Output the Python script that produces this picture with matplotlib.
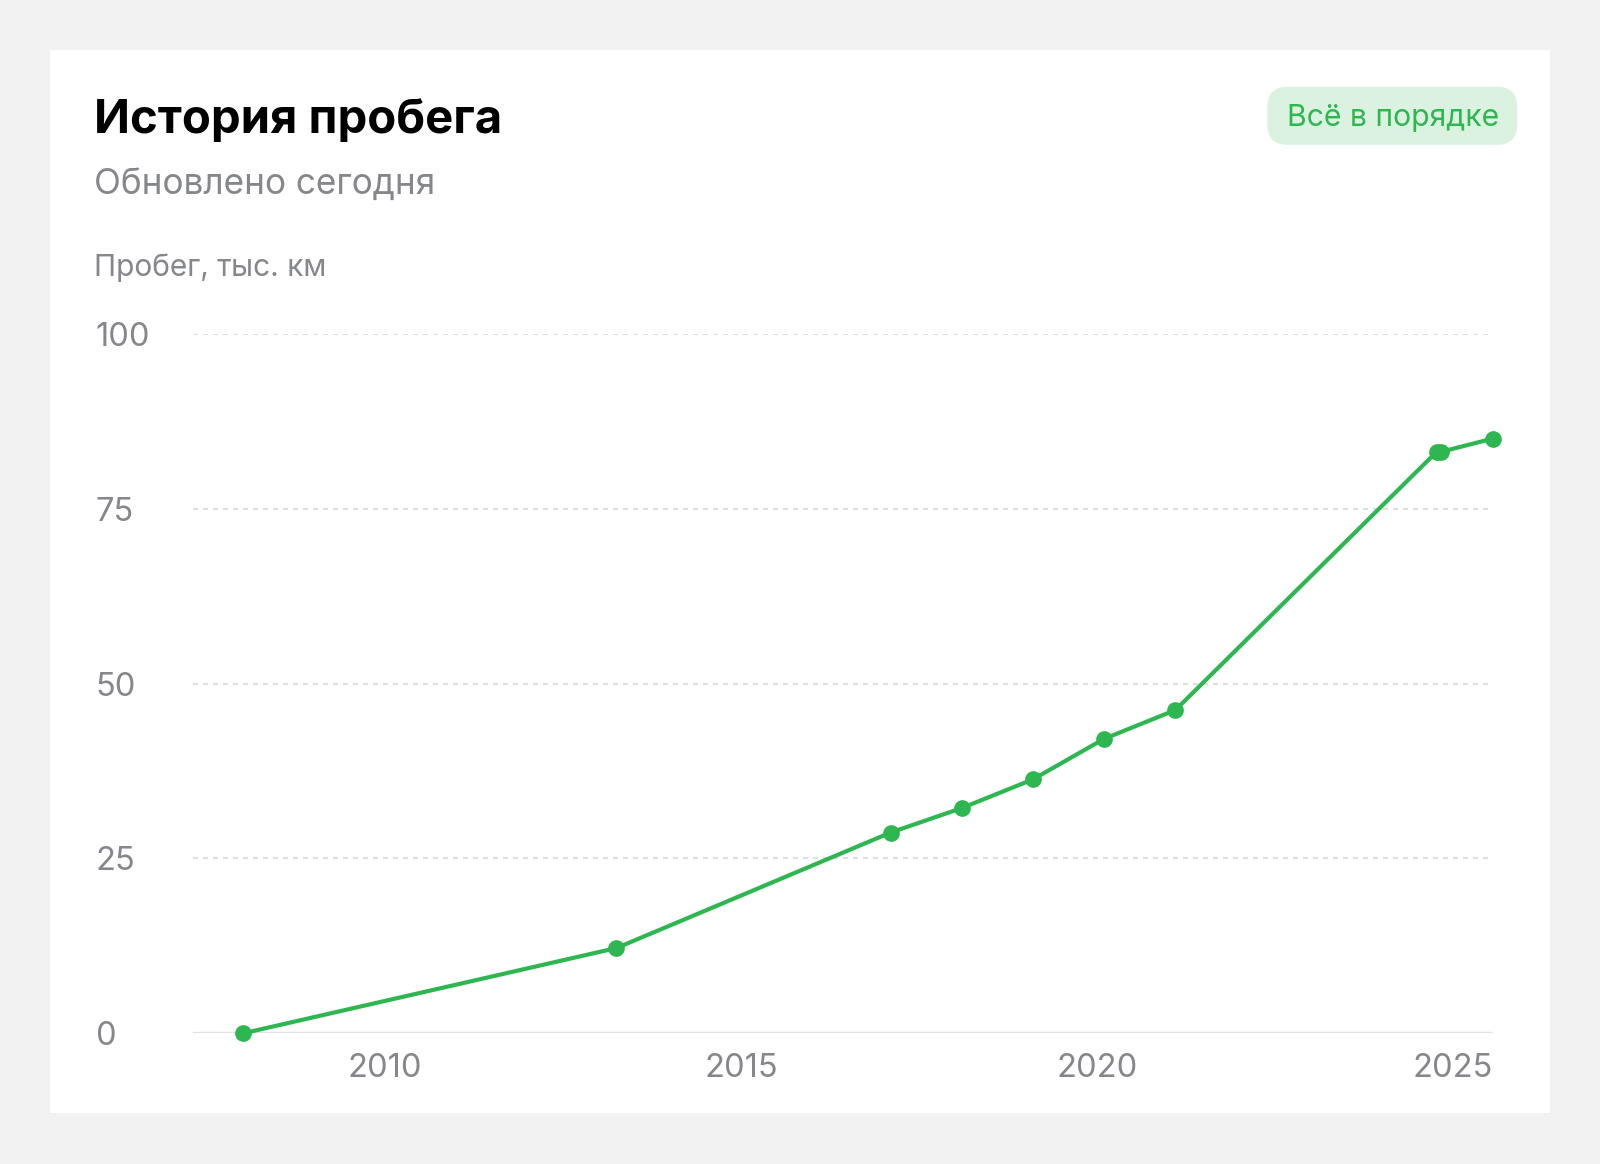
import matplotlib
matplotlib.use('Agg')
import matplotlib.pyplot as plt
from matplotlib.patches import FancyBboxPatch, Rectangle

plt.rcParams['font.family'] = ['Inter', 'DejaVu Sans']

# данные пробега (год, тыс. км)
years = [2008.0, 2013.25, 2017.1, 2018.1, 2019.1, 2020.1, 2021.1, 2024.77, 2024.83, 2025.56]
mileage = [0.0, 12.2, 28.7, 32.2, 36.3, 42.1, 46.2, 83.1, 83.1, 85.0]
x_ticks = [2010, 2015, 2020, 2025]
y_ticks = [0, 25, 50, 75, 100]

title = 'История пробега'
subtitle = 'Обновлено сегодня'
y_title = 'Пробег, тыс. км'
badge_text = 'Всё в порядке'

GREEN = '#2eb650'
GRAY = '#85878a'
W, H = 1568.0, 1141.0  # размеры исходной картинки для расчёта долей


def fx(px):
    return px / W


def fy(py):
    return 1 - py / H


fig = plt.figure(figsize=(16, 11.64), dpi=100)
fig.patch.set_facecolor('#f2f2f2')

# фон: карточка и бейдж в "пиксельных" координатах
bg = fig.add_axes([0, 0, 1, 1], zorder=-5)
bg.set_xlim(0, W)
bg.set_ylim(H, 0)
bg.axis('off')
bg.add_patch(Rectangle((49, 49), 1470, 1042, facecolor='white', edgecolor='none'))
bg.add_patch(FancyBboxPatch((1242, 85), 245, 57,
                            boxstyle='round,pad=0,rounding_size=20',
                            facecolor='#dcf2e1', edgecolor='none'))
bg.text(1365, 116, badge_text, fontsize=21.7, color=GREEN, va='center', ha='center')

bg.text(92, 119, title, fontsize=34, fontweight='bold', color='#000000',
        va='center', ha='left')
bg.text(92, 181, subtitle, fontsize=25.3, color=GRAY, va='center', ha='left')
bg.text(92, 262, y_title, fontsize=21.5, color=GRAY, va='center', ha='left')

ax = fig.add_axes([fx(189), fy(1013), fx(1463) - fx(189), fy(327) - fy(1013)])
ax.set_facecolor('none')
ax.plot(years, mileage, color=GREEN, lw=3, marker='o', ms=11, clip_on=False, zorder=3)

ax.set_xlim(2007.3, 2025.56)
ax.set_ylim(0, 100)
ax.set_xticks(x_ticks)
ax.set_yticks(y_ticks)
for spine in ax.spines.values():
    spine.set_visible(False)

for v in y_ticks[1:]:
    ax.axhline(v, color='#dedede', lw=1.5, ls=(0, (2.4, 2.4)), zorder=1)
ax.axhline(0, color='#e3e3e3', lw=2.5, zorder=1)

ax.tick_params(axis='both', length=0, labelsize=23.5, labelcolor=GRAY)
ax.tick_params(axis='y', pad=70)
ax.tick_params(axis='x', pad=14)
for lbl in ax.get_yticklabels():
    lbl.set_ha('left')

fig.savefig('out.png', dpi=100, facecolor=fig.get_facecolor())
